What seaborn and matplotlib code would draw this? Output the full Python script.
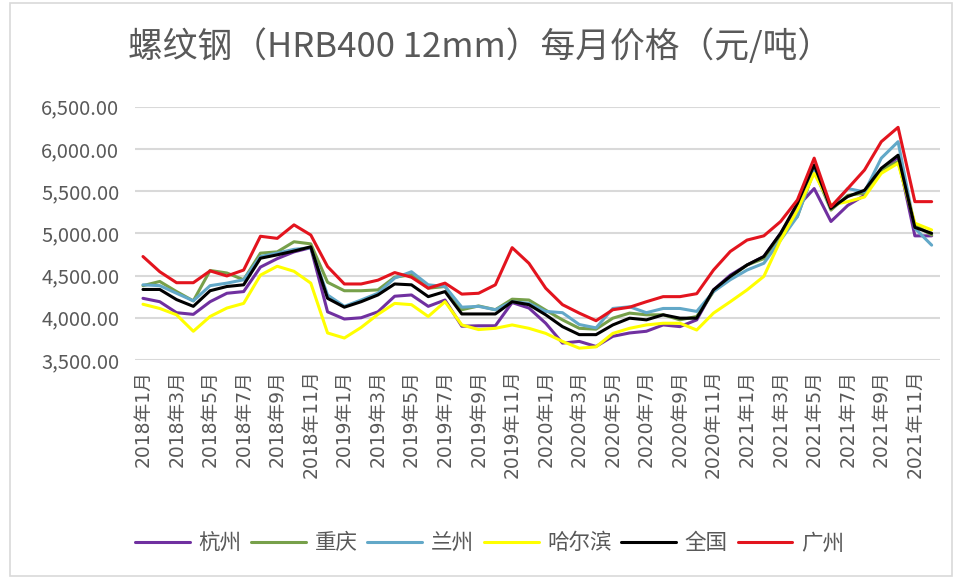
import numpy as np
import pandas as pd
import matplotlib
matplotlib.use("Agg")
import matplotlib.pyplot as plt
import seaborn as sns
from matplotlib.patches import Rectangle

months = [f"{y}年{m}月" for y in range(2018, 2022) for m in range(1, 13)]

hangzhou = [4230, 4190, 4060, 4040, 4190, 4290, 4310, 4600, 4700, 4780, 4830, 4070,
            3985, 4000, 4070, 4255, 4270, 4135, 4210, 3900, 3905, 3905, 4180, 4115,
            3935, 3700, 3720, 3660, 3780, 3820, 3840, 3915, 3895, 3975, 4330, 4505,
            4625, 4725, 5000, 5315, 5530, 5140, 5330, 5450, 5750, 5900, 4970, 4970]
chongqing = [4380, 4430, 4310, 4200, 4560, 4530, 4450, 4765, 4780, 4900, 4875, 4420,
             4320, 4320, 4330, 4480, 4510, 4350, 4370, 4095, 4140, 4095, 4220, 4210,
             4090, 3975, 3875, 3865, 3995, 4055, 4035, 4035, 3975, 4015, 4310, 4480,
             4625, 4700, 4980, 5200, 5750, 5275, 5450, 5475, 5750, 5850, 5100, 4980]
lanzhou = [4390, 4380, 4290, 4200, 4380, 4410, 4450, 4725, 4765, 4810, 4830, 4270,
           4135, 4210, 4290, 4470, 4545, 4390, 4370, 4125, 4135, 4095, 4190, 4170,
           4075, 4060, 3920, 3880, 4110, 4130, 4060, 4110, 4110, 4075, 4310, 4450,
           4565, 4645, 4920, 5200, 5750, 5300, 5530, 5490, 5890, 6085, 5060, 4860]
harbin = [4160, 4110, 4035, 3840, 4015, 4115, 4170, 4505, 4610, 4550, 4410, 3820,
          3760, 3885, 4040, 4170, 4155, 4015, 4190, 3915, 3860, 3875, 3915, 3875,
          3815, 3720, 3640, 3655, 3815, 3875, 3915, 3935, 3935, 3855, 4055, 4190,
          4330, 4490, 4920, 5275, 5710, 5335, 5375, 5430, 5710, 5830, 5120, 5040]
quanguo = [4335, 4335, 4215, 4135, 4320, 4370, 4390, 4705, 4745, 4790, 4840, 4230,
           4125, 4190, 4270, 4400, 4390, 4250, 4310, 4045, 4045, 4045, 4190, 4155,
           4035, 3895, 3800, 3800, 3915, 3995, 3975, 4035, 3995, 3995, 4330, 4490,
           4625, 4725, 5000, 5355, 5810, 5295, 5435, 5510, 5770, 5925, 5070, 5000]
guangzhou = [4725, 4545, 4415, 4415, 4555, 4495, 4565, 4965, 4940, 5100, 4980, 4606,
             4400, 4400, 4445, 4535, 4480, 4350, 4410, 4280, 4290, 4390, 4830, 4645,
             4350, 4155, 4055, 3965, 4095, 4125, 4190, 4250, 4250, 4285, 4565, 4785,
             4920, 4970, 5140, 5395, 5890, 5315, 5530, 5750, 6085, 6255, 5375, 5375]

cities = ["杭州", "重庆", "兰州", "哈尔滨", "全国", "广州"]
series = [hangzhou, chongqing, lanzhou, harbin, quanguo, guangzhou]
colors = ["#7030A0", "#77A04A", "#62A8C8", "#FFFF00", "#000000", "#E3141E"]

rows = []
for c, vals in zip(cities, series):
    for i, v in enumerate(vals):
        rows.append({"idx": i, "price": v, "city": c})
df = pd.DataFrame(rows)

sns.set_style("white")
plt.rcParams['font.family'] = ['Noto Sans CJK SC', 'DejaVu Sans']

fig = plt.figure(figsize=(9.6, 5.78), dpi=100)
ax = fig.add_axes([0.1402, 0.3772, 0.839, 0.4383])

sns.lineplot(data=df, x="idx", y="price", hue="city", hue_order=cities,
             palette=dict(zip(cities, colors)), linewidth=2.2, ax=ax, sort=False)

ax.set_xlim(-0.5, 47.5)
ax.set_ylim(3500, 6500)
yt = np.arange(3500, 6501, 500)
ax.set_yticks(yt)
ax.set_yticklabels([f"{v:,.2f}" for v in yt], fontsize=14.5, color="#595959")
ax.set_xticks(range(0, 48, 2))
ax.set_xticklabels(months[::2], rotation=90, fontsize=13.5, color="#595959",
                   family=['DejaVu Sans', 'Noto Sans CJK SC'])
ax.tick_params(axis="x", length=0, pad=7)
ax.tick_params(axis="y", length=0, pad=11)
ax.grid(axis="y", color="#D9D9D9", linewidth=1.5)
ax.set_axisbelow(True)
for s in ax.spines.values():
    s.set_visible(False)
ax.set_xlabel("")
ax.set_ylabel("")

fig.text(0.5, 0.919, "螺纹钢（HRB400 12mm）每月价格（元/吨）", ha="center", va="center",
         fontsize=25, color="#595959")

sns.move_legend(ax, "center", bbox_to_anchor=(0.51, 0.06), bbox_transform=fig.transFigure,
                ncol=6, title=None, frameon=False, fontsize=15.5, handlelength=2.55,
                columnspacing=0.45, handletextpad=0.4)
for t in ax.get_legend().get_texts():
    t.set_color("#595959")

fig.patches.append(Rectangle((0.01, 0.004), 0.982, 0.99, transform=fig.transFigure,
                             fill=False, edgecolor="#D9D9D9", linewidth=1.2))

fig.savefig("out.png", dpi=100)
